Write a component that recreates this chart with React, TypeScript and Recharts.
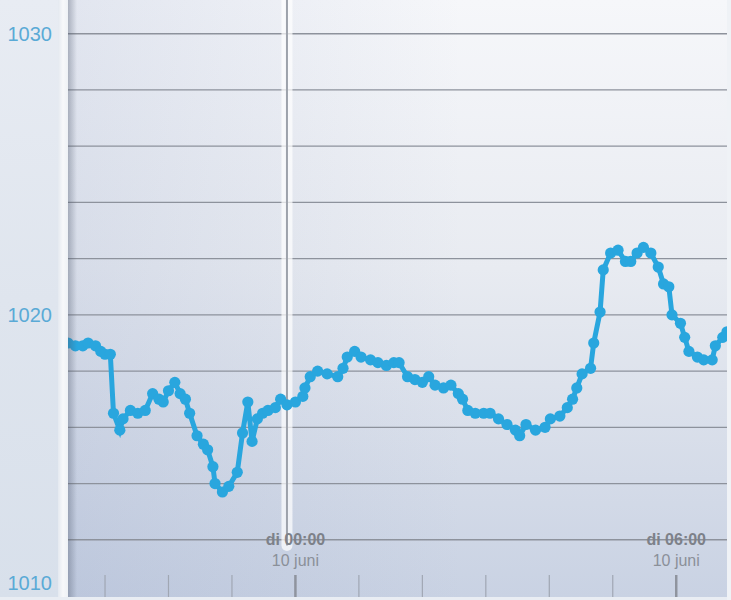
import { LineChart, Line, XAxis, YAxis, ReferenceLine } from 'recharts'

// minutes relative to di 10 juni 00:00
const times = [
  -215, -208, -201, -196, -189, -184, -180, -175, -172, -166, -163, -156, -149, -142, -135, -129,
  -125, -120, -114, -109, -104, -100, -93, -87, -83, -78, -76, -69, -63, -55, -50, -45,
  -41, -36, -31, -26, -19, -14, -8, 0, 7, 9, 14, 21, 30, 40, 45, 49,
  56, 62, 71, 78, 86, 93, 98, 106, 113, 120, 126, 132, 140, 147, 154, 158,
  163, 170, 178, 184, 192, 200, 208, 212, 218, 227, 236, 241, 250, 257, 262, 266,
  271, 279, 282, 288, 291, 298, 305, 312, 317, 323, 329, 336, 343, 348, 353, 356,
  364, 368, 372, 380, 386, 394, 397, 404, 408,
]

const pressure = [
  1019.0, 1018.9, 1018.9, 1019.0, 1018.9, 1018.7, 1018.6, 1018.6, 1016.5, 1015.9, 1016.3, 1016.6, 1016.5, 1016.6, 1017.2, 1017.0,
  1016.9, 1017.3, 1017.6, 1017.2, 1017.0, 1016.5, 1015.7, 1015.4, 1015.2, 1014.6, 1014.0, 1013.7, 1013.9, 1014.4, 1015.8, 1016.9,
  1015.5, 1016.3, 1016.5, 1016.6, 1016.7, 1017.0, 1016.8, 1016.9, 1017.1, 1017.4, 1017.8, 1018.0, 1017.9, 1017.8, 1018.1, 1018.5,
  1018.7, 1018.5, 1018.4, 1018.3, 1018.2, 1018.3, 1018.3, 1017.8, 1017.7, 1017.6, 1017.8, 1017.5, 1017.4, 1017.5, 1017.2, 1017.0,
  1016.6, 1016.5, 1016.5, 1016.5, 1016.3, 1016.1, 1015.9, 1015.7, 1016.1, 1015.9, 1016.0, 1016.3, 1016.4, 1016.7, 1017.0, 1017.4,
  1017.9, 1018.1, 1019.0, 1020.1, 1021.6, 1022.2, 1022.3, 1021.9, 1021.9, 1022.2, 1022.4, 1022.2, 1021.7, 1021.1, 1021.0, 1020.0,
  1019.7, 1019.2, 1018.7, 1018.5, 1018.4, 1018.4, 1018.9, 1019.2, 1019.4,
]

const data = times.map((t, i) => ({ t, p: pressure[i] }))

const yLabels = [1010, 1020, 1030]
const gridValues = [1012, 1014, 1016, 1018, 1020, 1022, 1024, 1026, 1028, 1030]
const hourTicks = [-180, -120, -60, 0, 60, 120, 180, 240, 300, 360]
const labelTimes = [0, 360]
const labelTimeText = ['di 00:00', 'di 06:00']
const labelDateText = ['10 juni', '10 juni']
const cursorTime = -8

const FONT = '"Liberation Sans", Arial, Helvetica, sans-serif'

function PressureTick({ x, y, payload }: any) {
  return (
    <text
      x={x - 16}
      y={payload.value === 1010 ? y - 13 : y}
      dy={7}
      textAnchor="end"
      fill="#5aaad6"
      fontSize={20}
      fontFamily={FONT}
    >
      {payload.value}
    </text>
  )
}

// y here is the plot bottom
function HourTick({ x, y, payload }: any) {
  const idx = labelTimes.indexOf(payload.value)
  const major = idx >= 0
  return (
    <g>
      <line
        x1={x}
        x2={x}
        y1={y - 21}
        y2={y + 1}
        stroke={major ? '#8f949e' : '#a0a7b3'}
        strokeWidth={major ? 2.5 : 1.2}
      />
      {major && (
        <>
          <text x={x} y={y - 51} textAnchor="middle" fill="#7d8189" fontSize={16} fontWeight="bold" fontFamily={FONT}>
            {labelTimeText[idx]}
          </text>
          <text x={x} y={y - 30} textAnchor="middle" fill="#8b9099" fontSize={16} fontFamily={FONT}>
            {labelDateText[idx]}
          </text>
        </>
      )}
    </g>
  )
}

export default function App() {
  return (
    <div style={{ position: 'absolute', left: 0, top: 0, width: 731, height: 600, overflow: 'hidden', background: '#eef1f5' }}>
      {/* left label panel */}
      <div style={{ position: 'absolute', left: 0, top: 0, width: 58, height: 600, background: 'linear-gradient(180deg, #e8ecf3 0%, #dfe5ee 50%, #d8e0eb 100%)' }} />
      <div style={{ position: 'absolute', left: 58, top: 0, width: 10, height: 600, background: 'linear-gradient(90deg, #e4e9f0 0%, #f7f8fa 50%, #eef1f5 100%)' }} />
      {/* plot background */}
      <div
        style={{
          position: 'absolute',
          left: 68,
          top: 0,
          width: 659,
          height: 597,
          background:
            'linear-gradient(90deg, rgba(120,140,185,0.16) 0%, rgba(120,140,185,0) 60%), linear-gradient(180deg, #f6f7fa 0%, #e8ebf1 45%, #c9d2e3 100%)',
        }}
      />
      <LineChart
        width={731}
        height={600}
        data={data}
        margin={{ top: 0, right: 4, bottom: 0, left: 0 }}
        style={{ position: 'absolute', left: 0, top: 0 }}
      >
        <XAxis
          dataKey="t"
          type="number"
          domain={[-215, 408]}
          ticks={hourTicks}
          allowDataOverflow
          height={4}
          axisLine={false}
          tickLine={false}
          tickSize={0}
          tickMargin={0}
          interval={0}
          tick={<HourTick />}
        />
        <YAxis
          type="number"
          domain={[1010, 1031.2]}
          ticks={yLabels}
          allowDataOverflow
          width={68}
          axisLine={false}
          tickLine={false}
          tickSize={0}
          tickMargin={0}
          interval={0}
          tick={<PressureTick />}
        />
        {gridValues.map(v => (
          <ReferenceLine key={v} y={v} stroke="#8d929c" strokeWidth={1.3} />
        ))}
        <Line
          dataKey="p"
          type="linear"
          stroke="#29a6de"
          strokeWidth={5}
          dot={{ r: 5.6, fill: '#29a6de', stroke: 'none' }}
          isAnimationActive={false}
        />
        <ReferenceLine
          segment={[{ x: cursorTime, y: 1011.8 }, { x: cursorTime, y: 1031.2 }]}
          stroke="#ffffff"
          strokeOpacity={0.7}
          strokeWidth={11}
          strokeLinecap="round"
        />
        <ReferenceLine
          segment={[{ x: cursorTime, y: 1011.8 }, { x: cursorTime, y: 1031.2 }]}
          stroke="#9da2ab"
          strokeWidth={2}
        />
      </LineChart>
      {/* inner shadow at the left edge of the plot */}
      <div style={{ position: 'absolute', left: 68, top: 0, width: 9, height: 597, background: 'linear-gradient(90deg, rgba(70,80,100,0.35) 0%, rgba(70,80,100,0) 100%)', pointerEvents: 'none' }} />
      <div style={{ position: 'absolute', left: 0, top: 597, width: 731, height: 3, background: '#e9edf3' }} />
      <div style={{ position: 'absolute', left: 727, top: 0, width: 4, height: 600, background: '#eff2f6' }} />
    </div>
  )
}
